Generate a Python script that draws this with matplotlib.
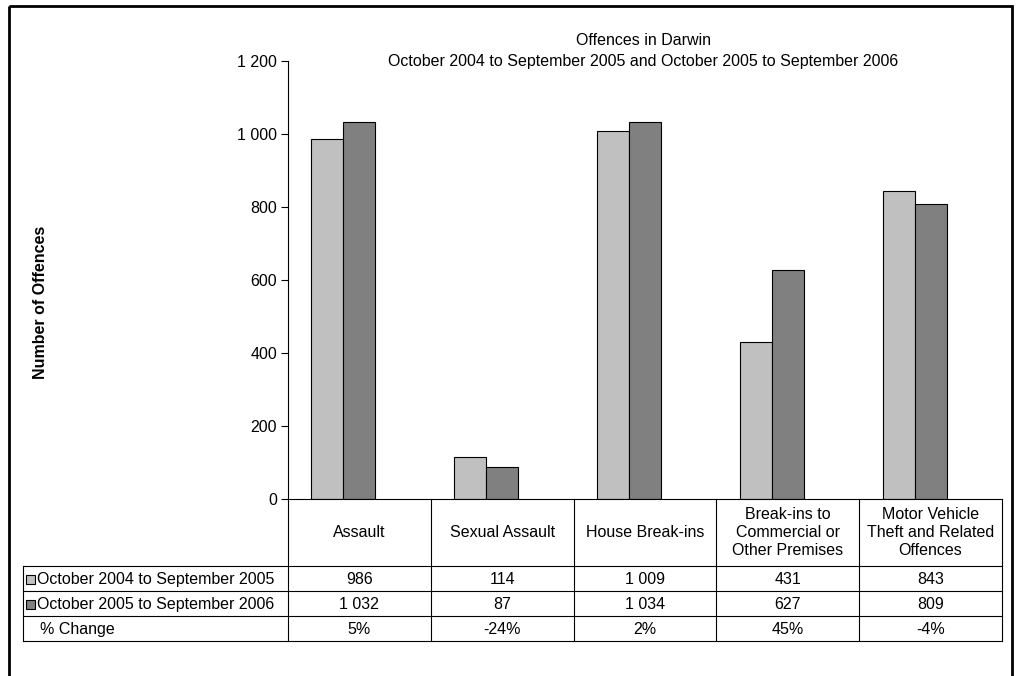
import numpy as np
import matplotlib
matplotlib.use('Agg')
import matplotlib.pyplot as plt
from matplotlib.patches import Rectangle
from matplotlib.ticker import FuncFormatter

plt.rcParams['font.family'] = ['Liberation Sans', 'DejaVu Sans']

categories = ['Assault', 'Sexual Assault', 'House Break-ins',
              'Break-ins to\nCommercial or\nOther Premises',
              'Motor Vehicle\nTheft and Related\nOffences']
series_names = ['October 2004 to September 2005', 'October 2005 to September 2006']
offences_2005 = [986, 114, 1009, 431, 843]
offences_2006 = [1032, 87, 1034, 627, 809]
pct_change = ['5%', '-24%', '2%', '45%', '-4%']
colors = ['#C0C0C0', '#808080']

W, H = 1019, 676
FS = 11.5


def fmt(v, pos=None):
    # thousands separated by a space, as in the original
    return '{:,.0f}'.format(v).replace(',', ' ')


fig = plt.figure(figsize=(W / 100, H / 100), dpi=100)

# pixel layout of the plot area and the data table
left, right, top, base = 288, 1002, 61, 499
legend_left = 23
row_edges = [499, 566, 591, 616, 641]
line_w = 0.8

# overlay in pixel coordinates for table + border
ov = fig.add_axes([0, 0, 1, 1])
ov.set_xlim(0, W)
ov.set_ylim(H, 0)
ov.axis('off')
ov.patch.set_visible(False)

ax = fig.add_axes([left / W, 1 - base / H, (right - left) / W, (base - top) / H])
ax.patch.set_visible(False)
x = np.arange(len(categories))
w = 0.224
ax.bar(x - w, offences_2005, w, color=colors[0], edgecolor='black', linewidth=line_w)
ax.bar(x, offences_2006, w, color=colors[1], edgecolor='black', linewidth=line_w)
ax.set_xlim(-0.5, len(categories) - 0.5)
ax.set_ylim(0, 1200)
ax.set_yticks(range(0, 1201, 200))
ax.yaxis.set_major_formatter(FuncFormatter(fmt))
ax.tick_params(axis='y', direction='out', length=5, width=line_w, pad=3, labelsize=FS)
ax.set_xticks([])
for s in ['top', 'right']:
    ax.spines[s].set_visible(False)
for s in ['left', 'bottom']:
    ax.spines[s].set_linewidth(line_w)

# data table
n = len(categories)
col_x = [left + (right - left) * k / n for k in range(n + 1)]
for cx in col_x:
    ov.plot([cx, cx], [row_edges[0], row_edges[-1]], color='black', lw=line_w)
ov.plot([legend_left, legend_left], [row_edges[1], row_edges[-1]], color='black', lw=line_w)
for ry in row_edges[1:]:
    ov.plot([legend_left, right], [ry, ry], color='black', lw=line_w)

hdr_y = (row_edges[0] + row_edges[1]) / 2
for k, cat in enumerate(categories):
    cx = (col_x[k] + col_x[k + 1]) / 2
    ov.text(cx, hdr_y, cat, ha='center', va='center', fontsize=FS, linespacing=1.27)

rows = [[fmt(v) for v in offences_2005], [fmt(v) for v in offences_2006], pct_change]
for r, vals in enumerate(rows):
    cy = (row_edges[r + 1] + row_edges[r + 2]) / 2
    for k, v in enumerate(vals):
        cx = (col_x[k] + col_x[k + 1]) / 2
        ov.text(cx, cy + 1, v, ha='center', va='center', fontsize=FS)

# legend keys in the table
for r, name in enumerate(series_names):
    cy = (row_edges[r + 1] + row_edges[r + 2]) / 2
    ov.add_patch(Rectangle((26, cy - 4), 9, 9, facecolor=colors[r], edgecolor='black', lw=line_w))
    ov.text(37, cy + 1, name, ha='left', va='center', fontsize=FS)
cy = (row_edges[3] + row_edges[4]) / 2
ov.text(40, cy + 1, '% Change', ha='left', va='center', fontsize=FS)

# titles
fig.text(643 / W, 1 - 51 / H,
         'Offences in Darwin\nOctober 2004 to September 2005 and October 2005 to September 2006',
         ha='center', va='center', fontsize=FS, linespacing=1.5)
fig.text(41 / W, 1 - 302 / H, 'Number of Offences', rotation=90, fontweight='bold',
         ha='center', va='center', fontsize=FS)

# outer frame (open at the bottom edge of the image)
ov.add_patch(Rectangle((9, 6), 1003, 700, fill=False, edgecolor='black', lw=2))

fig.savefig('out.png', dpi=100)
